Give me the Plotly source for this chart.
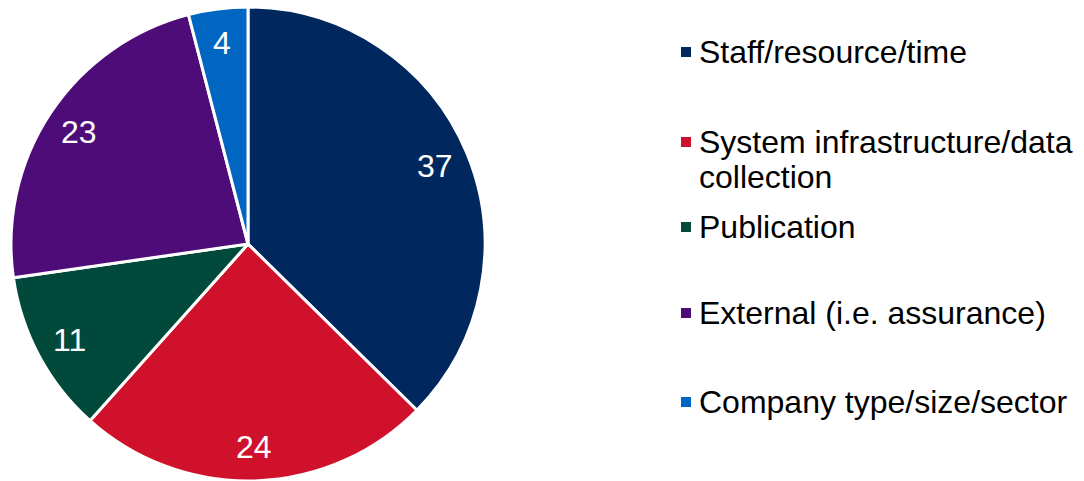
import math
import plotly.graph_objects as go

categories = [
    "Staff/resource/time",
    "System infrastructure/data<br>collection",
    "Publication",
    "External (i.e. assurance)",
    "Company type/size/sector",
]
values = [37, 24, 11, 23, 4]
colors = ["#00285f", "#cf112c", "#00493b", "#4e0c78", "#0066c2"]

# vertical centre (px from top) of each legend entry's first line
legend_rows = [52, 142, 227, 313, 402]
LINE_GAP = 35  # px between wrapped legend lines

W, H = 1084, 481
FONT = "Liberation Sans, Arial, sans-serif"

# pie geometry in pixels
CX, CY, R = 248, 244, 237
LABEL_R = 0.855  # value labels sit at this fraction of the radius

fig = go.Figure()
fig.add_trace(go.Pie(
    labels=categories,
    values=values,
    sort=False,
    direction="clockwise",
    rotation=0,
    marker=dict(colors=colors, line=dict(color="white", width=3)),
    textinfo="none",
    domain=dict(x=[(CX - R) / W, (CX + R) / W], y=[(H - CY - R) / H, (H - CY + R) / H]),
    showlegend=False,
    hoverinfo="label+value",
))

# value labels placed at the mid-angle of each slice
total = sum(values)
cum = 0
for v in values:
    mid = (cum + v / 2) / total * 2 * math.pi
    cum += v
    px = CX + LABEL_R * R * math.sin(mid)
    py = CY - LABEL_R * R * math.cos(mid)
    fig.add_annotation(
        x=px / W, y=1 - py / H, xref="paper", yref="paper",
        xanchor="center", yanchor="middle",
        text=str(v), showarrow=False,
        font=dict(family=FONT, size=32, color="white"),
    )

# legend drawn as squares + text (wrapped lines set with a tighter gap)
for name, col, yc in zip(categories, colors, legend_rows):
    fig.add_shape(
        type="rect", xref="paper", yref="paper",
        x0=681 / W, x1=691 / W, y0=1 - (yc + 5) / H, y1=1 - (yc - 5) / H,
        fillcolor=col, line=dict(width=0),
    )
    for i, line in enumerate(name.split("<br>")):
        fig.add_annotation(
            x=697 / W, y=1 - (yc + i * LINE_GAP) / H, xref="paper", yref="paper",
            xanchor="left", yanchor="middle", align="left",
            text=line, showarrow=False,
            font=dict(family=FONT, size=32, color="#000000"),
        )

fig.update_layout(
    width=W, height=H,
    margin=dict(l=0, r=0, t=0, b=0),
    paper_bgcolor="white", plot_bgcolor="white",
)

fig.write_html("out.html")
